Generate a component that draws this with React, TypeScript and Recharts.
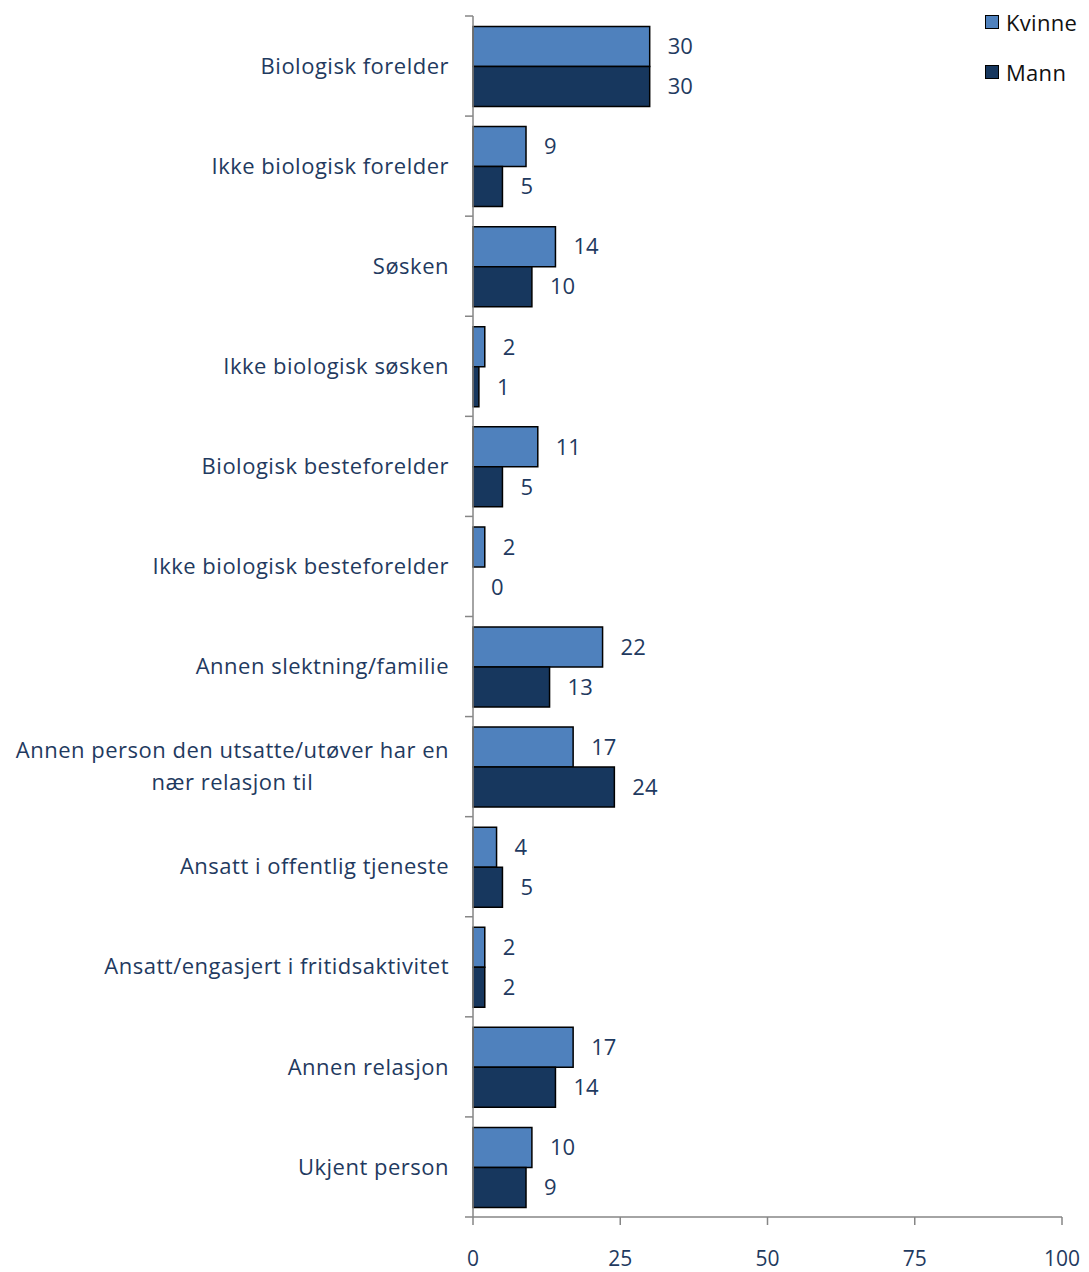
import React from 'react';
import { BarChart, Bar, XAxis, YAxis, Legend, LabelList, Cell } from 'recharts';

const categories = [
  'Biologisk forelder',
  'Ikke biologisk forelder',
  'Søsken',
  'Ikke biologisk søsken',
  'Biologisk besteforelder',
  'Ikke biologisk besteforelder',
  'Annen slektning/familie',
  'Annen person den utsatte/utøver har en\nnær relasjon til',
  'Ansatt i offentlig tjeneste',
  'Ansatt/engasjert i fritidsaktivitet',
  'Annen relasjon',
  'Ukjent person',
];
const kvinne = [30, 9, 14, 2, 11, 2, 22, 17, 4, 2, 17, 10];
const mann = [30, 5, 10, 1, 5, 0, 13, 24, 5, 2, 14, 9];
const xTicks = [0, 25, 50, 75, 100];
const seriesNames = ['Kvinne', 'Mann'];
const seriesColors = ['#4F81BD', '#17375E'];

const data = categories.map((c, i) => ({ cat: c, Kvinne: kvinne[i], Mann: mann[i] }));

const W = 1089;
const H = 1272;
const MARGIN = { top: 16, right: 27, bottom: 0, left: 0 };
const X_AXIS_H = 55;
const Y_AXIS_W = 473;
const BAND = (H - MARGIN.top - MARGIN.bottom - X_AXIS_H) / categories.length;

const TEXT_BLUE = '#1F3A60';
const AXIS_GRAY = '#868686';
const FONT = "'Open Sans', sans-serif";
const CAT_FONT_SIZE = 22;
const CAT_SPACING = 0.5;

let ctx: CanvasRenderingContext2D | null = null;
const measure = (t: string) => {
  if (!ctx) ctx = document.createElement('canvas').getContext('2d');
  if (!ctx) return t.length * 11;
  ctx.font = `${CAT_FONT_SIZE}px 'Open Sans'`;
  return ctx.measureText(t).width + t.length * CAT_SPACING;
};

const CategoryTick = (props: any) => {
  const { x, y, payload, index } = props;
  const lines = String(payload.value).split('\n');
  const axisX = x + 24;
  const lineH = 32;
  const common = { fill: TEXT_BLUE, fontSize: CAT_FONT_SIZE, fontFamily: FONT, letterSpacing: CAT_SPACING };
  let texts;
  if (lines.length === 1) {
    texts = (
      <text x={x} y={y} dy="0.35em" textAnchor="end" {...common}>
        {lines[0]}
      </text>
    );
  } else {
    const w = Math.max(...lines.map(measure));
    const cx = x - w / 2;
    texts = lines.map((l, i) => (
      <text key={i} x={cx} y={y + (i - (lines.length - 1) / 2) * lineH} dy="0.35em" textAnchor="middle" {...common}>
        {l}
      </text>
    ));
  }
  return (
    <g>
      {texts}
      <line x1={axisX - 8} x2={axisX} y1={y - BAND / 2} y2={y - BAND / 2} stroke={AXIS_GRAY} strokeWidth={1.5} />
      {index === categories.length - 1 && (
        <line x1={axisX - 8} x2={axisX} y1={y + BAND / 2} y2={y + BAND / 2} stroke={AXIS_GRAY} strokeWidth={1.5} />
      )}
    </g>
  );
};

const LegendContent = (props: any) => {
  const { payload } = props;
  return (
    <div style={{ fontFamily: FONT }}>
      {(payload || []).map((p: any, i: number) => (
        <div key={i} style={{ display: 'flex', alignItems: 'center', height: 50 }}>
          <div style={{ width: 12, height: 12, background: p.color, border: '1.5px solid #000', marginRight: 7 }} />
          <span style={{ fontSize: 22, color: '#111', letterSpacing: 0.3 }}>{p.value}</span>
        </div>
      ))}
    </div>
  );
};

export default function App() {
  return (
    <div style={{ position: 'absolute', left: 0, top: 0, width: W, height: H, background: '#fff' }}>
      <BarChart width={W} height={H} data={data} layout="vertical" margin={MARGIN} barCategoryGap="10.5%" barGap={0}>
        <XAxis
          type="number"
          domain={[0, 100]}
          ticks={xTicks}
          height={X_AXIS_H}
          axisLine={{ stroke: AXIS_GRAY, strokeWidth: 1.5 }}
          tickLine={{ stroke: AXIS_GRAY, strokeWidth: 1.5 }}
          tickSize={8}
          tickMargin={26}
          tick={{ fill: TEXT_BLUE, fontSize: 21, fontFamily: FONT }}
        />
        <YAxis
          type="category"
          dataKey="cat"
          width={Y_AXIS_W}
          axisLine={{ stroke: AXIS_GRAY, strokeWidth: 1.5 }}
          tickLine={false}
          tickSize={8}
          tickMargin={16}
          interval={0}
          tick={<CategoryTick />}
        />
        <Legend
          layout="vertical"
          align="center"
          verticalAlign="middle"
          wrapperStyle={{ top: -3, left: 985, width: 104, height: 100 }}
          content={<LegendContent />}
        />
        <Bar dataKey={seriesNames[0]} name={seriesNames[0]} fill={seriesColors[0]} stroke="#000" strokeWidth={1.5} isAnimationActive={false}>
          <LabelList dataKey={seriesNames[0]} position="right" offset={18} fill={TEXT_BLUE} fontSize={22} fontFamily={FONT} />
        </Bar>
        <Bar dataKey={seriesNames[1]} name={seriesNames[1]} fill={seriesColors[1]} stroke="#000" strokeWidth={1.5} minPointSize={0.01} isAnimationActive={false}>
          {mann.map((v, i) => (
            <Cell key={i} stroke={v === 0 ? 'none' : '#000'} />
          ))}
          <LabelList dataKey={seriesNames[1]} position="right" offset={18} fill={TEXT_BLUE} fontSize={22} fontFamily={FONT} />
        </Bar>
      </BarChart>
    </div>
  );
}
